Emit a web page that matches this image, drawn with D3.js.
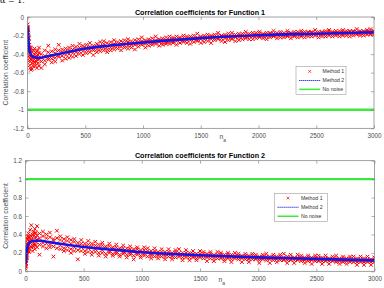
<!DOCTYPE html>
<html>
<head>
<meta charset="utf-8">
<script src="https://cdn.jsdelivr.net/npm/d3@7"></script>
<style>
  body { margin: 0; background: #fff; }
  svg { display: block; font-family: "Liberation Sans", Arial, sans-serif; }
</style>
</head>
<body>
<svg id="chart" width="384" height="288"></svg>
<script>
// ---- data ----
const titles = ['Correlation coefficients for Function 1', 'Correlation coefficients for Function 2']
const legendLabels = ['Method 1', 'Method 2', 'No noise']
const xTicks = [0, 500, 1000, 1500, 2000, 2500, 3000]
const yTicksF1 = [-1.2, -1, -0.8, -0.6, -0.4, -0.2, 0]
const yTicksF2 = [0, 0.2, 0.4, 0.6, 0.8, 1, 1.2]
const f1NoNoise = -1
const f2NoNoise = 1

// n values of the Method 1 markers (4 markers per n)
const scatterN = [1, 3, 5, 8, 12, 16, 20, 25, 30, 40, 50, 60, 70, 80, 90, 100,
  120, 150, 180, 210, 240, 270, 300, 330, 360, 390, 420, 450, 480, 510, 540, 570, 600,
  630, 660, 690, 720, 750, 780, 810, 840, 870, 900, 930, 960, 990, 1020, 1050, 1080,
  1110, 1140, 1170, 1200, 1230, 1260, 1290, 1320, 1350, 1380, 1410, 1440, 1470, 1500,
  1530, 1560, 1590, 1620, 1650, 1680, 1710, 1740, 1770, 1800, 1830, 1860, 1890, 1920,
  1950, 1980, 2010, 2040, 2070, 2100, 2130, 2160, 2190, 2220, 2250, 2280, 2310, 2340,
  2370, 2400, 2430, 2460, 2490, 2520, 2550, 2580, 2610, 2640, 2670, 2700, 2730, 2760,
  2790, 2820, 2850, 2880, 2910, 2940, 2970, 3000]

const f1Method1 = [
  [-0.08, -0.13, -0.11, -0.16], [-0.12, -0.19, -0.16, -0.22], [-0.17, -0.26, -0.21, -0.14],
  [-0.22, -0.31, -0.19, -0.35], [-0.27, -0.38, -0.33, -0.23], [-0.41, -0.30, -0.47, -0.36],
  [-0.33, -0.44, -0.52, -0.37], [-0.48, -0.35, -0.55, -0.42], [-0.33, -0.46, -0.57, -0.40],
  [-0.50, -0.38, -0.44, -0.56], [-0.36, -0.47, -0.53, -0.42], [-0.49, -0.40, -0.34, -0.46],
  [-0.52, -0.43, -0.38, -0.47], [-0.37, -0.48, -0.55, -0.42], [-0.46, -0.36, -0.50, -0.41],
  [-0.39, -0.53, -0.45, -0.33], [-0.48, -0.40, -0.55, -0.44], [-0.36, -0.47, -0.42, -0.51],
  [-0.46, -0.38, -0.31, -0.44], [-0.37, -0.49, -0.42, -0.45], [-0.44, -0.35, -0.48, -0.39],
  [-0.36, -0.43, -0.30, -0.41], [-0.42, -0.35, -0.47, -0.38], [-0.34, -0.41, -0.37, -0.45],
  [-0.40, -0.33, -0.44, -0.36], [-0.31, -0.39, -0.35, -0.43], [-0.38, -0.32, -0.42, -0.35],
  [-0.33, -0.40, -0.29, -0.37], [-0.37, -0.31, -0.41, -0.34], [-0.30, -0.36, -0.33, -0.39],
  [-0.38, -0.32, -0.28, -0.35], [-0.31, -0.36, -0.34, -0.41], [-0.35, -0.29, -0.38, -0.32],
  [-0.27, -0.34, -0.31, -0.37], [-0.33, -0.29, -0.36, -0.26], [-0.28, -0.35, -0.32, -0.38],
  [-0.33, -0.27, -0.30, -0.36], [-0.25, -0.32, -0.29, -0.35], [-0.31, -0.27, -0.34, -0.30],
  [-0.26, -0.32, -0.29, -0.36], [-0.31, -0.25, -0.33, -0.28], [-0.27, -0.31, -0.24, -0.34],
  [-0.30, -0.26, -0.33, -0.29], [-0.25, -0.30, -0.28, -0.35], [-0.29, -0.24, -0.32, -0.27],
  [-0.26, -0.30, -0.22, -0.28], [-0.29, -0.25, -0.33, -0.27], [-0.24, -0.28, -0.26, -0.31],
  [-0.28, -0.23, -0.30, -0.26], [-0.25, -0.29, -0.21, -0.27], [-0.27, -0.24, -0.31, -0.26],
  [-0.23, -0.28, -0.25, -0.30], [-0.27, -0.22, -0.29, -0.25], [-0.24, -0.27, -0.21, -0.29],
  [-0.26, -0.22, -0.28, -0.24], [-0.21, -0.26, -0.24, -0.30], [-0.25, -0.22, -0.28, -0.23],
  [-0.22, -0.26, -0.20, -0.27], [-0.25, -0.21, -0.28, -0.23], [-0.21, -0.25, -0.23, -0.29],
  [-0.24, -0.20, -0.27, -0.23], [-0.22, -0.25, -0.18, -0.26], [-0.24, -0.21, -0.28, -0.22],
  [-0.20, -0.24, -0.22, -0.27], [-0.23, -0.19, -0.26, -0.22], [-0.21, -0.24, -0.20, -0.28],
  [-0.23, -0.19, -0.25, -0.21], [-0.20, -0.24, -0.17, -0.23], [-0.23, -0.20, -0.26, -0.21],
  [-0.19, -0.23, -0.21, -0.27], [-0.22, -0.18, -0.25, -0.21], [-0.20, -0.23, -0.17, -0.24],
  [-0.22, -0.19, -0.26, -0.21], [-0.18, -0.22, -0.20, -0.25], [-0.21, -0.18, -0.24, -0.20],
  [-0.19, -0.22, -0.16, -0.23], [-0.21, -0.18, -0.24, -0.20], [-0.17, -0.21, -0.19, -0.24],
  [-0.20, -0.17, -0.23, -0.19], [-0.18, -0.21, -0.16, -0.22], [-0.21, -0.18, -0.23, -0.19],
  [-0.17, -0.21, -0.19, -0.24], [-0.20, -0.17, -0.22, -0.18], [-0.18, -0.21, -0.15, -0.20],
  [-0.20, -0.17, -0.23, -0.19], [-0.16, -0.20, -0.18, -0.22], [-0.20, -0.17, -0.22, -0.19],
  [-0.17, -0.20, -0.15, -0.21], [-0.20, -0.17, -0.23, -0.18], [-0.16, -0.20, -0.18, -0.21],
  [-0.19, -0.16, -0.22, -0.18], [-0.17, -0.20, -0.15, -0.21], [-0.19, -0.16, -0.22, -0.18],
  [-0.16, -0.19, -0.17, -0.21], [-0.19, -0.16, -0.21, -0.17], [-0.17, -0.20, -0.14, -0.19],
  [-0.19, -0.16, -0.22, -0.18], [-0.16, -0.19, -0.17, -0.21], [-0.19, -0.15, -0.21, -0.17],
  [-0.16, -0.19, -0.14, -0.20], [-0.19, -0.16, -0.21, -0.17], [-0.15, -0.19, -0.17, -0.20],
  [-0.18, -0.15, -0.21, -0.17], [-0.16, -0.19, -0.14, -0.20], [-0.18, -0.15, -0.20, -0.17],
  [-0.15, -0.18, -0.16, -0.21], [-0.18, -0.15, -0.20, -0.16], [-0.16, -0.19, -0.13, -0.18],
  [-0.18, -0.15, -0.20, -0.17], [-0.15, -0.18, -0.16, -0.20], [-0.18, -0.14, -0.19, -0.16],
  [-0.15, -0.18, -0.13, -0.19], [-0.17, -0.15, -0.19, -0.16]
]

const f2Method1 = [
  [0.05, 0.11, 0.03, 0.09], [0.08, 0.16, 0.06, 0.13], [0.12, 0.21, 0.09, 0.17],
  [0.15, 0.26, 0.12, 0.22], [0.18, 0.29, 0.14, 0.25], [0.31, 0.20, 0.35, 0.24],
  [0.22, 0.34, 0.38, 0.27], [0.36, 0.24, 0.41, 0.30], [0.25, 0.37, 0.21, 0.33],
  [0.39, 0.27, 0.45, 0.31], [0.26, 0.38, 0.50, 0.34], [0.40, 0.28, 0.35, 0.22],
  [0.27, 0.43, 0.31, 0.38], [0.41, 0.29, 0.46, 0.24], [0.28, 0.37, 0.42, 0.32],
  [0.39, 0.26, 0.49, 0.34], [0.29, 0.41, 0.18, 0.36], [0.38, 0.27, 0.43, 0.31],
  [0.25, 0.36, 0.30, 0.40], [0.37, 0.26, 0.42, 0.29], [0.27, 0.35, 0.16, 0.33],
  [0.36, 0.25, 0.30, 0.44], [0.24, 0.34, 0.28, 0.38], [0.35, 0.25, 0.31, 0.22],
  [0.23, 0.33, 0.27, 0.37], [0.34, 0.24, 0.30, 0.20], [0.22, 0.32, 0.26, 0.35],
  [0.31, 0.23, 0.13, 0.28], [0.22, 0.30, 0.26, 0.34], [0.30, 0.22, 0.27, 0.19],
  [0.21, 0.29, 0.25, 0.33], [0.30, 0.21, 0.27, 0.18], [0.21, 0.28, 0.24, 0.32],
  [0.29, 0.20, 0.26, 0.17], [0.20, 0.28, 0.23, 0.31], [0.27, 0.19, 0.25, 0.16],
  [0.20, 0.27, 0.22, 0.30], [0.26, 0.19, 0.24, 0.17], [0.19, 0.26, 0.21, 0.29],
  [0.25, 0.18, 0.23, 0.16], [0.19, 0.25, 0.21, 0.28], [0.25, 0.18, 0.22, 0.15],
  [0.18, 0.24, 0.20, 0.27], [0.24, 0.17, 0.22, 0.13], [0.18, 0.24, 0.20, 0.26],
  [0.23, 0.17, 0.21, 0.15], [0.17, 0.23, 0.19, 0.26], [0.22, 0.16, 0.20, 0.25],
  [0.17, 0.22, 0.19, 0.14], [0.22, 0.16, 0.20, 0.25], [0.17, 0.21, 0.18, 0.14],
  [0.21, 0.16, 0.19, 0.24], [0.16, 0.21, 0.18, 0.13], [0.21, 0.16, 0.19, 0.24],
  [0.16, 0.20, 0.17, 0.13], [0.21, 0.15, 0.19, 0.23], [0.16, 0.20, 0.17, 0.24],
  [0.20, 0.15, 0.18, 0.12], [0.15, 0.20, 0.17, 0.23], [0.20, 0.15, 0.18, 0.12],
  [0.15, 0.19, 0.16, 0.22], [0.19, 0.14, 0.17, 0.12], [0.15, 0.19, 0.16, 0.22],
  [0.19, 0.14, 0.17, 0.21], [0.15, 0.19, 0.16, 0.11], [0.19, 0.14, 0.17, 0.21],
  [0.14, 0.18, 0.16, 0.11], [0.18, 0.14, 0.16, 0.21], [0.14, 0.18, 0.15, 0.20],
  [0.18, 0.13, 0.16, 0.11], [0.14, 0.18, 0.15, 0.20], [0.18, 0.13, 0.16, 0.10],
  [0.14, 0.17, 0.15, 0.20], [0.17, 0.13, 0.15, 0.19], [0.14, 0.17, 0.15, 0.10],
  [0.17, 0.13, 0.15, 0.19], [0.13, 0.17, 0.14, 0.10], [0.17, 0.13, 0.15, 0.19],
  [0.13, 0.16, 0.14, 0.18], [0.16, 0.12, 0.14, 0.09], [0.13, 0.16, 0.14, 0.18],
  [0.16, 0.12, 0.14, 0.19], [0.13, 0.16, 0.14, 0.09], [0.16, 0.12, 0.14, 0.18],
  [0.13, 0.16, 0.14, 0.10], [0.16, 0.12, 0.14, 0.18], [0.12, 0.15, 0.13, 0.19],
  [0.16, 0.12, 0.14, 0.09], [0.12, 0.15, 0.13, 0.18], [0.15, 0.12, 0.14, 0.09],
  [0.12, 0.15, 0.13, 0.18], [0.15, 0.11, 0.13, 0.17], [0.12, 0.15, 0.13, 0.09],
  [0.15, 0.11, 0.13, 0.17], [0.12, 0.15, 0.13, 0.08], [0.15, 0.11, 0.13, 0.17],
  [0.11, 0.14, 0.12, 0.17], [0.15, 0.11, 0.13, 0.08], [0.11, 0.14, 0.12, 0.17],
  [0.14, 0.11, 0.13, 0.08], [0.11, 0.14, 0.12, 0.16], [0.14, 0.10, 0.12, 0.17],
  [0.11, 0.14, 0.12, 0.08], [0.14, 0.10, 0.12, 0.16], [0.11, 0.14, 0.12, 0.08],
  [0.14, 0.10, 0.12, 0.16], [0.10, 0.13, 0.11, 0.16], [0.14, 0.10, 0.12, 0.07],
  [0.10, 0.13, 0.11, 0.16], [0.14, 0.10, 0.12, 0.07], [0.10, 0.13, 0.11, 0.16],
  [0.13, 0.10, 0.12, 0.07], [0.10, 0.13, 0.11, 0.15]
]

// Method 2 (smooth curve) read at a few n
const method2N = [1, 5, 10, 20, 30, 50, 80, 100, 150, 200, 300, 400, 500, 700, 1000, 1500, 2000, 2500, 3000]
const f1Method2 = [-0.10, -0.20, -0.29, -0.38, -0.41, -0.43, -0.44, -0.44, -0.43, -0.415, -0.39, -0.365, -0.34, -0.31, -0.275, -0.228, -0.197, -0.18, -0.164]
const f2Method2 = [0.08, 0.16, 0.215, 0.28, 0.305, 0.322, 0.332, 0.333, 0.328, 0.318, 0.298, 0.28, 0.264, 0.24, 0.207, 0.174, 0.151, 0.135, 0.118]

// ---- drawing ----
const svg = d3.select('#chart')
const axisColor = '#7a7a7a'
const textColor = '#4d4d4d'

// leftover caption from the page above the figure (clipped at the top, as in the source)
svg
  .append('text')
  .attr('x', 0)
  .attr('y', 3)
  .style('font-family', '"DejaVu Serif", serif')
  .style('font-size', '8px')
  .text('α = 1.')

const drawPanel = (p) => {
  const x = d3.scaleLinear().domain([0, 3000]).range([p.left, p.right])
  const y = d3.scaleLinear().domain(p.yDomain).range([p.bottom, p.top])

  svg
    .append('clipPath')
    .attr('id', 'clip' + p.id)
    .append('rect')
    .attr('x', p.left)
    .attr('y', p.top)
    .attr('width', p.right - p.left)
    .attr('height', p.bottom - p.top)

  const plot = svg.append('g').attr('clip-path', `url(#clip${p.id})`)

  // no noise reference line
  plot
    .append('line')
    .attr('x1', x(0))
    .attr('x2', x(3000))
    .attr('y1', y(p.noNoise))
    .attr('y2', y(p.noNoise))
    .attr('stroke', '#3bea3b')
    .attr('stroke-width', 2.4)

  // method 1 markers
  const pts = scatterN.flatMap((n, i) => p.m1[i].map((v) => [n, v]))
  plot
    .selectAll('path.m1')
    .data(pts)
    .join('path')
    .attr('class', 'm1')
    .attr('transform', (d) => `translate(${x(d[0])},${y(d[1])})`)
    .attr('d', 'M-1.8,-1.8L1.8,1.8M-1.8,1.8L1.8,-1.8')
    .attr('stroke', '#ff0000')
    .attr('stroke-width', 1)

  // method 2 curve
  const line = d3
    .line()
    .x((d) => x(d[0]))
    .y((d) => y(d[1]))
    .curve(d3.curveMonotoneX)
  plot
    .append('path')
    .datum(method2N.map((n, i) => [n, p.m2[i]]))
    .attr('fill', 'none')
    .attr('stroke', '#1515e6')
    .attr('stroke-width', 2.6)
    .attr('d', line)

  const fmt = (d) => String(+d.toFixed(1))

  // axes, ticks pointing inwards like matlab
  const styleAxis = (g) => {
    g.select('.domain').remove()
    g.selectAll('.tick line').attr('stroke', axisColor).attr('stroke-width', 0.6)
    g.selectAll('.tick text').attr('fill', textColor).style('font-size', '6.3px')
  }
  svg
    .append('g')
    .attr('transform', `translate(0,${p.bottom})`)
    .call(d3.axisBottom(x).tickValues(xTicks).tickSize(-3).tickPadding(5).tickFormat(fmt))
    .call(styleAxis)
  svg
    .append('g')
    .attr('transform', `translate(0,${p.top})`)
    .call(d3.axisTop(x).tickValues(xTicks).tickSize(-3).tickFormat(''))
    .call(styleAxis)
  svg
    .append('g')
    .attr('transform', `translate(${p.left},0)`)
    .call(d3.axisLeft(y).tickValues(p.yTicks).tickSize(-3).tickPadding(3.5).tickFormat(fmt))
    .call(styleAxis)
  svg
    .append('g')
    .attr('transform', `translate(${p.right},0)`)
    .call(d3.axisRight(y).tickValues(p.yTicks).tickSize(-3).tickFormat(''))
    .call(styleAxis)

  svg
    .append('rect')
    .attr('x', p.left)
    .attr('y', p.top)
    .attr('width', p.right - p.left)
    .attr('height', p.bottom - p.top)
    .attr('fill', 'none')
    .attr('stroke', axisColor)
    .attr('stroke-width', 0.7)

  // title
  svg
    .append('text')
    .attr('x', 200)
    .attr('y', p.top - 2.5)
    .style('text-anchor', 'middle')
    .style('font-size', '7.2px')
    .style('font-weight', 'bold')
    .text(p.title)

  // y label
  svg
    .append('text')
    .attr('transform', `translate(6,${(p.top + p.bottom) / 2}) rotate(-90)`)
    .attr('dy', '0.35em')
    .style('text-anchor', 'middle')
    .style('font-size', '6.8px')
    .attr('fill', textColor)
    .text('Correlation coefficient')

  // x label n_a
  const xl = svg
    .append('text')
    .attr('x', p.xLabelX)
    .attr('y', p.bottom + 10.5)
    .style('font-size', '6.8px')
    .attr('fill', textColor)
  xl.append('tspan').text('n')
  xl.append('tspan').attr('dy', 2.8).style('font-size', '5px').text('a')

  // legend
  const L = p.legend
  const lg = svg.append('g')
  lg.append('rect')
    .attr('x', L.x)
    .attr('y', L.y)
    .attr('width', L.w)
    .attr('height', L.h)
    .attr('fill', '#fff')
    .attr('stroke', '#8a8a8a')
    .attr('stroke-width', 0.5)
  const rowY = [0.17, 0.5, 0.82].map((f) => L.y + L.h * f)
  legendLabels.forEach((label, i) => {
    const ry = rowY[i]
    if (i === 0) {
      lg.append('path')
        .attr('transform', `translate(${L.x + 13.7},${ry})`)
        .attr('d', 'M-1.4,-1.4L1.4,1.4M-1.4,1.4L1.4,-1.4')
        .attr('stroke', '#ff0000')
        .attr('stroke-width', 0.7)
    } else {
      lg.append('line')
        .attr('x1', L.x + 3.2)
        .attr('x2', L.x + 24.2)
        .attr('y1', ry)
        .attr('y2', ry)
        .attr('stroke', i === 1 ? '#1515e6' : '#3bea3b')
        .attr('stroke-width', i === 1 ? 1.1 : 1.5)
        .attr('stroke-dasharray', i === 1 ? '1.2,0.8' : null)
    }
    lg.append('text')
      .attr('x', L.x + 26.6)
      .attr('y', ry)
      .attr('dy', '0.35em')
      .style('font-size', '5.2px')
      .attr('fill', '#333')
      .text(label)
  })
}

drawPanel({
  id: 1, left: 27.5, right: 374, top: 17, bottom: 128.3,
  yDomain: [-1.2, 0], yTicks: yTicksF1, m1: f1Method1, m2: f1Method2, noNoise: f1NoNoise,
  title: titles[0], xLabelX: 219.5,
  legend: { x: 296, y: 66.7, w: 50, h: 27.6 }
})
drawPanel({
  id: 2, left: 25.5, right: 374.5, top: 160.7, bottom: 271.3,
  yDomain: [0, 1.2], yTicks: yTicksF2, m1: f2Method1, m2: f2Method2, noNoise: f2NoNoise,
  title: titles[1], xLabelX: 218.5,
  legend: { x: 274.3, y: 193.3, w: 53.4, h: 28 }
})
</script>
</body>
</html>
